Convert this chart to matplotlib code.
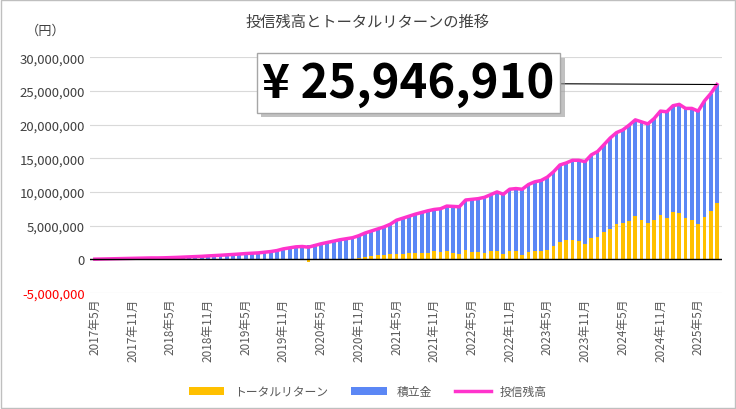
import matplotlib
matplotlib.use("Agg")
import matplotlib.pyplot as plt
import numpy as np
from matplotlib.patches import Rectangle
import matplotlib.patheffects as pe

plt.rcParams["font.family"] = ["Noto Sans CJK JP", "DejaVu Sans"]

start_year, start_month = 2017, 5
totals_m = [0.02,0.04,0.06,0.08,0.10,0.12,0.14,0.16,
 0.18,0.20,0.20,0.22,0.25,0.28,0.32,0.36,0.40,0.44,0.50,0.55,
 0.60,0.66,0.72,0.78,0.85,0.90,0.95,1.05,1.15,1.30,1.55,1.70,
 1.85,1.90,1.80,2.05,2.30,2.50,2.70,2.90,3.05,3.20,3.50,3.90,
 4.20,4.50,4.80,5.20,5.80,6.10,6.40,6.70,6.95,7.20,7.40,7.50,
 7.90,7.85,7.80,8.80,8.90,9.00,9.20,9.60,10.00,9.65,10.40,10.50,
 10.40,11.10,11.50,11.70,12.20,13.00,14.00,14.30,14.70,14.70,14.50,15.50,
 16.0,17.0,18.0,18.8,19.2,19.9,20.7,20.4,20.1,20.9,22.0,21.9,
 22.8,23.0,22.4,22.4,22.0,23.5,24.6,25.94691]
returns_m = [0,0,0,0,0.005,0.005,0.01,0.01,
 0.01,0.0,0.01,0.01,-0.01,0.0,0.01,0.01,0.0,-0.03,-0.02,-0.05,
 -0.02,0.0,0.01,-0.01,-0.03,0.0,0.02,0.0,0.02,0.05,0.06,0.08,
 0.05,-0.15,-0.35,-0.15,-0.05,0.0,0.05,0.08,0.05,0.1,0.25,0.4,
 0.5,0.6,0.7,0.75,0.85,0.85,0.9,0.9,0.95,0.95,1.2,1.1,
 1.3,0.95,0.85,1.35,1.1,1.1,1.0,1.2,1.3,0.85,1.25,1.2,
 0.7,1.1,1.2,1.2,1.45,1.9,2.6,2.8,2.9,2.7,2.2,3.1,
 3.3,4.0,4.55,5.2,5.45,5.65,6.4,5.9,5.4,5.8,6.6,6.2,
 7.0,6.8,6.1,5.9,5.2,6.3,7.2,8.3]
yticks = [-5000000,0,5000000,10000000,15000000,20000000,25000000,30000000]

total = np.array(totals_m)*1e6
ret = np.array(returns_m)*1e6
contrib = total - ret
n = len(total)
labels = []
for i in range(n):
    m = start_month - 1 + i
    labels.append(f"{start_year + m//12}年{m%12+1}月")

fig = plt.figure(figsize=(7.36,4.1), dpi=100)
fig.patches.append(Rectangle((0.002,0.002),0.996,0.996,transform=fig.transFigure,
                             fill=False,edgecolor="#bfbfbf",lw=1))
ax = fig.add_axes([0.122,0.283,0.859,0.575])
x = np.arange(n)
b1 = ax.bar(x, ret, width=0.6, color="#FFC000", label="トータルリターン", zorder=2)
b2 = ax.bar(x, contrib, width=0.6, bottom=np.maximum(ret,0), color="#5B87F5", label="積立金", zorder=2)
l1, = ax.plot(x, total, color="#FF33CC", lw=2.5, label="投信残高", zorder=3)
ax.axhline(0, color="black", lw=1, zorder=4)
ax.set_ylim(-5e6, 30e6)
ax.set_xlim(-0.8, n-0.2)
ax.set_yticks(yticks)
ax.set_yticklabels([f"{v:,}" for v in yticks], fontsize=9.5, color="#404040")
ax.get_yticklabels()[0].set_color("red")
ax.yaxis.grid(True, color="#d9d9d9", lw=0.8, zorder=0)
ax.set_xticks(x[::6])
ax.set_xticklabels(labels[::6], rotation=90, fontsize=8.5, color="#595959")
ax.tick_params(length=0)
for s in ax.spines.values():
    s.set_visible(False)

fig.text(0.5, 0.945, "投信残高とトータルリターンの推移", ha="center", va="center", fontsize=11, color="#404040")
fig.text(0.062, 0.925, "（円）", ha="center", va="center", fontsize=9.5, color="#404040")

ann = ax.annotate(f"¥ {int(round(total[-1])):,}", xy=(x[-1], total[-1]), xycoords="data",
            xytext=(0.555, 0.795), textcoords="figure fraction",
            ha="center", va="center", fontsize=34, fontweight="bold", color="black",
            bbox=dict(boxstyle="square,pad=0.12", fc="white", ec="#a6a6a6", lw=1,
                      path_effects=[pe.SimplePatchShadow(offset=(3,-3), shadow_rgbFace="#999999", alpha=0.6), pe.Normal()]),
            arrowprops=dict(arrowstyle="-", color="black", lw=0.8, shrinkA=0, shrinkB=0),
            zorder=6)

fig.legend(handles=[b1, b2, l1], loc="lower center", bbox_to_anchor=(0.5, 0.0), ncol=3, frameon=False,
           fontsize=8.5, handlelength=3, labelcolor="#595959", columnspacing=2)
fig.savefig("out.png", dpi=100)
